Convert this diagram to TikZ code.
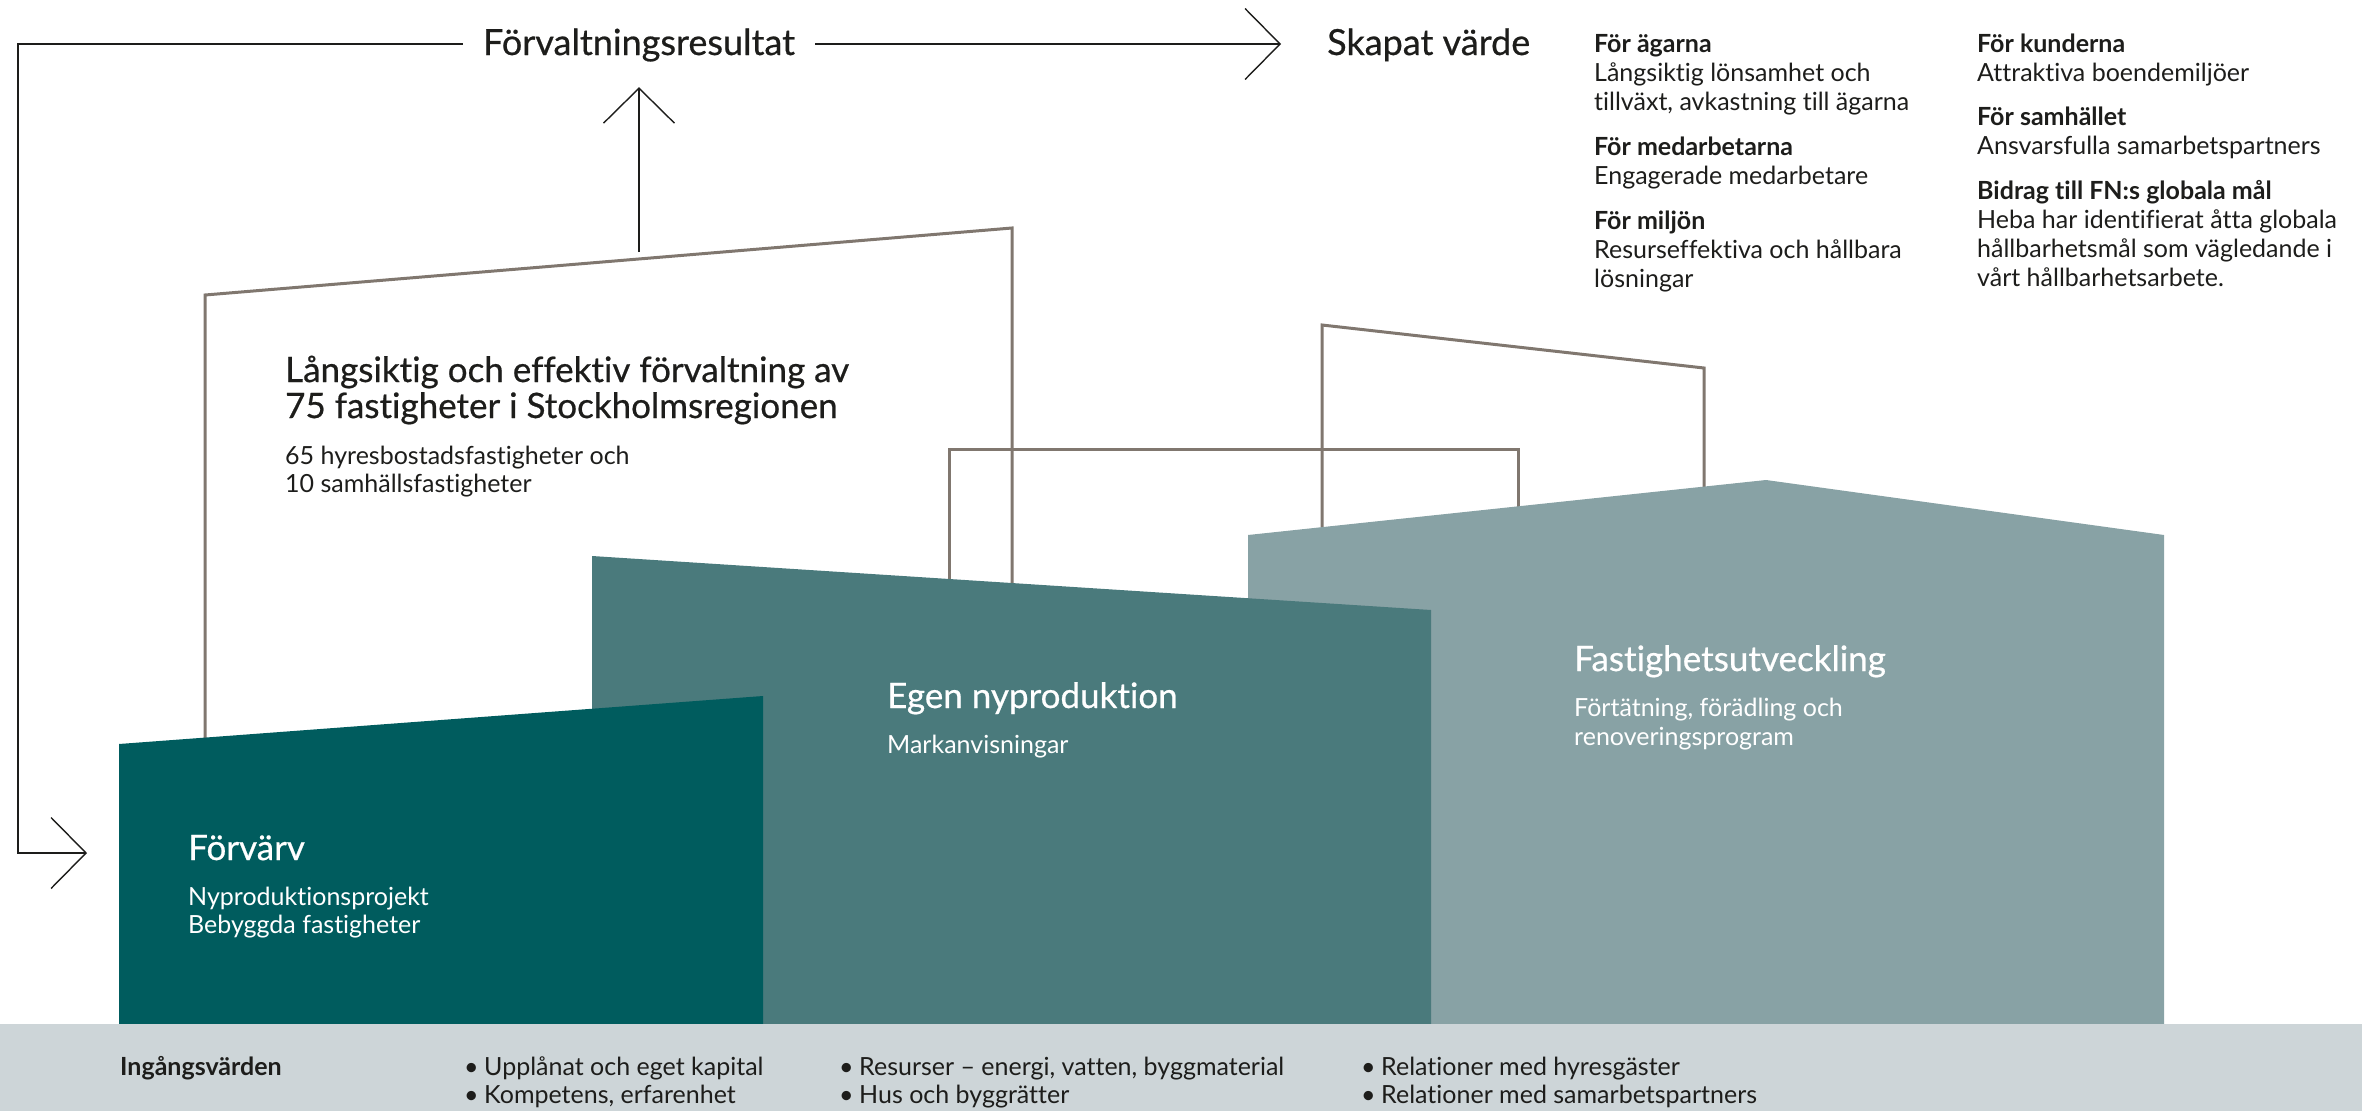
\documentclass[tikz,border=0pt]{standalone}
\usepackage{fontspec}
\setmainfont{Lato}[Ligatures=NoCommon]
\newfontfamily\medfont{Lato}[Ligatures=NoCommon,FakeBold=0.6]
\usetikzlibrary{arrows.meta}
\definecolor{dteal}{HTML}{005C5E}
\definecolor{mteal}{HTML}{4A7A7C}
\definecolor{lteal}{HTML}{88A2A5}
\definecolor{barg}{HTML}{CDD5D8}
\definecolor{outl}{HTML}{80776F}
\definecolor{ink}{HTML}{1D1D1B}
\newcommand{\bul}{\makebox[20pt][l]{•}}
\begin{document}
\begin{tikzpicture}[x=1pt,y=-1pt,line join=miter,
  frame/.style={draw=outl,line width=3pt},
  arr/.style={draw=ink,line width=1.4pt,-{Straight Barb[length=35pt,width=71pt,line width=1.4pt]}},
  ttl/.style={inner sep=0pt,text=ink,font=\medfont\fontsize{36}{40}\selectfont,text height=31pt,text depth=9pt},
  hd/.style={inner sep=0pt,anchor=base west,align=left,text=ink,font=\medfont\fontsize{35}{36}\selectfont},
  bd/.style={inner sep=0pt,anchor=base west,align=left,text=ink,font=\fontsize{25}{28}\selectfont},
  rc/.style={inner sep=0pt,anchor=base west,align=left,text=ink,font=\fontsize{25}{29}\selectfont},
  wt/.style={text=white}]
\useasboundingbox (0,0) rectangle (2362,1111);
% building outlines
\draw[frame] (205,1000) -- (205,295) -- (1012,228) -- (1012,1000);
\draw[frame] (949,1000) -- (949,449) -- (1518,449) -- (1518,1000);
\draw[frame] (1322,1000) -- (1322,325) -- (1704,368) -- (1704,1000);
% filled buildings
\fill[lteal] (1248,1024) -- (1248,535) -- (1766,480) -- (2164,535) -- (2164,1024) -- cycle;
\fill[mteal] (592,1024) -- (592,556) -- (1431,610) -- (1431,1024) -- cycle;
\fill[dteal] (119,1024) -- (119,744) -- (763,696) -- (763,1024) -- cycle;
\fill[barg] (0,1024) rectangle (2362,1111);
% titles
\node[ttl,anchor=base] (fr) at (639,55) {Förvaltningsresultat};
\node[ttl,anchor=base west] (sv) at (1327,55) {Skapat värde};
% connectors
\coordinate (lc1) at (18,44);
\coordinate (lc2) at (18,853);
\coordinate (fvtip) at (87,853);
\coordinate (roofpt) at (639,252);
\draw[arr,shorten <=20pt,shorten >=46pt] (fr.east) -- (sv.west);
\draw[arr,shorten <=20pt] (fr.west) -- (lc1) -- (lc2) -- (fvtip);
\draw[arr,shorten >=23pt] (roofpt) -- (fr.south);
% right columns (base anchor = last line)
\node[rc] (ag) at (1594,110) {\textbf{För ägarna}\\Långsiktig lönsamhet och\\tillväxt, avkastning till ägarna};
\node[rc] (med) at (1594,184) {\textbf{För medarbetarna}\\Engagerade medarbetare};
\node[rc] (milj) at (1594,287) {\textbf{För miljön}\\Resurseffektiva och hållbara\\lösningar};
\node[rc] (kund) at (1977,81) {\textbf{För kunderna}\\Attraktiva boendemiljöer};
\node[rc] (samh) at (1977,154) {\textbf{För samhället}\\Ansvarsfulla samarbetspartners};
\node[rc] (fn) at (1977,286) {\textbf{Bidrag till FN:s globala mål}\\Heba har identifierat åtta globala\\hållbarhetsmål som vägledande i\\vårt hållbarhetsarbete.};
% building texts
\node[hd] (lhd) at (285,418) {Långsiktig och effektiv förvaltning av\\75 fastigheter i Stockholmsregionen};
\node[bd] (lbd) at (285,492) {65 hyresbostadsfastigheter och\\10 samhällsfastigheter};
\node[hd,wt] (fvh) at (188,860) {Förvärv};
\node[bd,wt] (fvb) at (188,933) {Nyproduktionsprojekt\\Bebyggda fastigheter};
\node[hd,wt] (egh) at (887,708) {Egen nyproduktion};
\node[bd,wt] (egb) at (887,753) {Markanvisningar};
\node[hd,wt] (fuh) at (1574,671) {Fastighetsutveckling};
\node[rc,wt] (fub) at (1574,745) {Förtätning, förädling och\\renoveringsprogram};
% inputs bar
\node[bd,font=\fontsize{25}{28}\selectfont\bfseries] (ing) at (120,1075) {Ingångsvärden};
\node[bd] (b1) at (464,1103) {\bul Upplånat och eget kapital\\\bul Kompetens, erfarenhet};
\node[bd] (b2) at (839,1103) {\bul Resurser – energi, vatten, byggmaterial\\\bul Hus och byggrätter};
\node[bd] (b3) at (1361,1103) {\bul Relationer med hyresgäster\\\bul Relationer med samarbetspartners};
\end{tikzpicture}
\end{document}
